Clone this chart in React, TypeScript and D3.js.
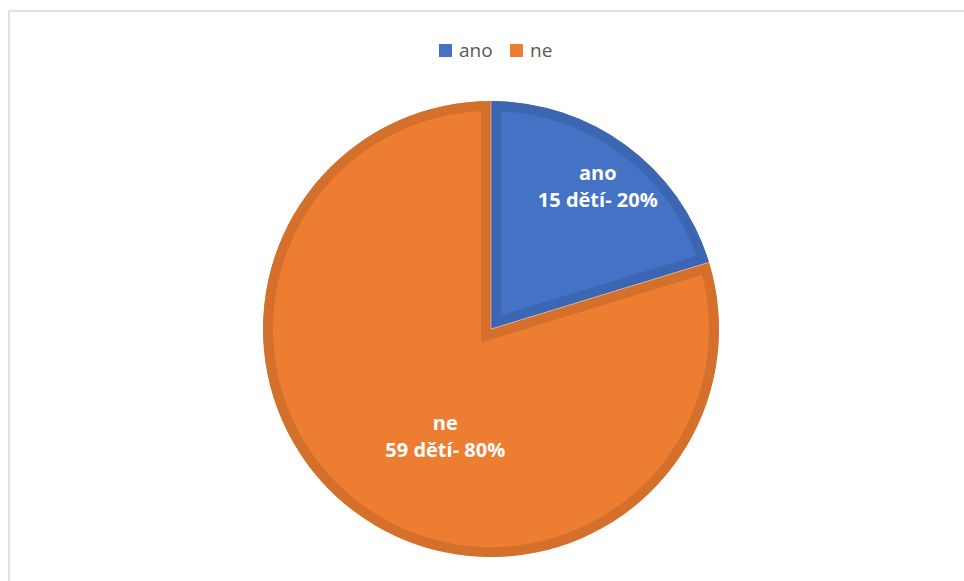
import { useEffect, useRef } from "react"
import * as d3 from "d3"

const categories = ["ano", "ne"]
const counts = [15, 59]
const percentLabels = ["20%", "80%"]
const unitLabel = "dětí"

const fills = ["#4472C4", "#ED7D31"]
const borders = ["#3C66B2", "#D5702C"]

type Slice = { name: string; value: number; pct: string; i: number }

export default function App() {
  const svgRef = useRef<SVGSVGElement>(null)
  const width = 964
  const height = 581

  useEffect(() => {
    const svg = d3.select(svgRef.current)
    svg.selectAll("*").remove()

    const font = "'Open Sans', 'Noto Sans', sans-serif"
    const cx = 491
    const cy = 329
    const radius = 228

    // Chart frame
    svg
      .append("rect")
      .attr("x", 9)
      .attr("y", 11)
      .attr("width", 980)
      .attr("height", 620)
      .attr("fill", "#fff")
      .attr("stroke", "#D9D9D9")
      .attr("stroke-width", 1.5)

    const data: Slice[] = categories.map((c, i) => ({ name: c, value: counts[i], pct: percentLabels[i], i }))

    const pie = d3
      .pie<Slice>()
      .value((d) => d.value)
      .sort(null)

    const arcs = pie(data)
    const arc = d3.arc<d3.PieArcDatum<Slice>>().innerRadius(0).outerRadius(radius)

    const g = svg.append("g").attr("transform", `translate(${cx},${cy})`)
    const defs = svg.append("defs")

    arcs.forEach((a, i) => {
      defs.append("clipPath").attr("id", `slice-clip-${i}`).append("path").attr("d", arc(a) as string)
    })

    // Slices, border drawn as an inner band
    g.selectAll("path.slice")
      .data(arcs)
      .enter()
      .append("path")
      .attr("class", "slice")
      .attr("d", (d) => arc(d) as string)
      .attr("fill", (d) => fills[d.data.i])
      .attr("stroke", (d) => borders[d.data.i])
      .attr("stroke-width", 20)
      .attr("clip-path", (d) => `url(#slice-clip-${d.data.i})`)

    // thin light seam between slices
    g.selectAll("line.seam")
      .data(arcs)
      .enter()
      .append("line")
      .attr("x1", 0)
      .attr("y1", 0)
      .attr("x2", (d) => radius * Math.sin(d.startAngle))
      .attr("y2", (d) => -radius * Math.cos(d.startAngle))
      .attr("stroke", "#fff")
      .attr("stroke-opacity", 0.5)
      .attr("stroke-width", 0.8)

    // Data labels (Excel best-fit placement, nudged from centroid)
    const labelArc = d3
      .arc<d3.PieArcDatum<Slice>>()
      .innerRadius(radius * 0.78)
      .outerRadius(radius * 0.78)
    const labelNudge = [
      [1, 1],
      [60, -35],
    ]

    arcs.forEach((a, i) => {
      const [x, y] = labelArc.centroid(a)
      const lx = cx + x + labelNudge[i][0]
      const ly = cy + y + labelNudge[i][1]
      const t = svg
        .append("text")
        .attr("text-anchor", "middle")
        .attr("font-family", font)
        .attr("font-weight", 700)
        .attr("font-size", 20)
        .attr("fill", "#fff")
      t.append("tspan").attr("x", lx).attr("y", ly - 7).text(a.data.name)
      t.append("tspan")
        .attr("x", lx)
        .attr("y", ly + 20)
        .text(`${a.data.value} ${unitLabel}- ${a.data.pct}`)
    })

    // Legend
    const legend = svg.append("g").attr("transform", "translate(439,44)")
    const legendX = [0, 71]
    categories.forEach((c, i) => {
      const item = legend.append("g").attr("transform", `translate(${legendX[i]},0)`)
      item.append("rect").attr("width", 13).attr("height", 13).attr("fill", fills[i])
      item
        .append("text")
        .attr("x", 20)
        .attr("y", 12.5)
        .attr("font-family", font)
        .attr("font-size", 19)
        .attr("fill", "#595959")
        .text(c)
    })
  }, [])

  return (
    <div style={{ position: "fixed", left: 0, top: 0 }}>
      <svg ref={svgRef} width={width} height={height} style={{ display: "block" }} />
    </div>
  )
}
